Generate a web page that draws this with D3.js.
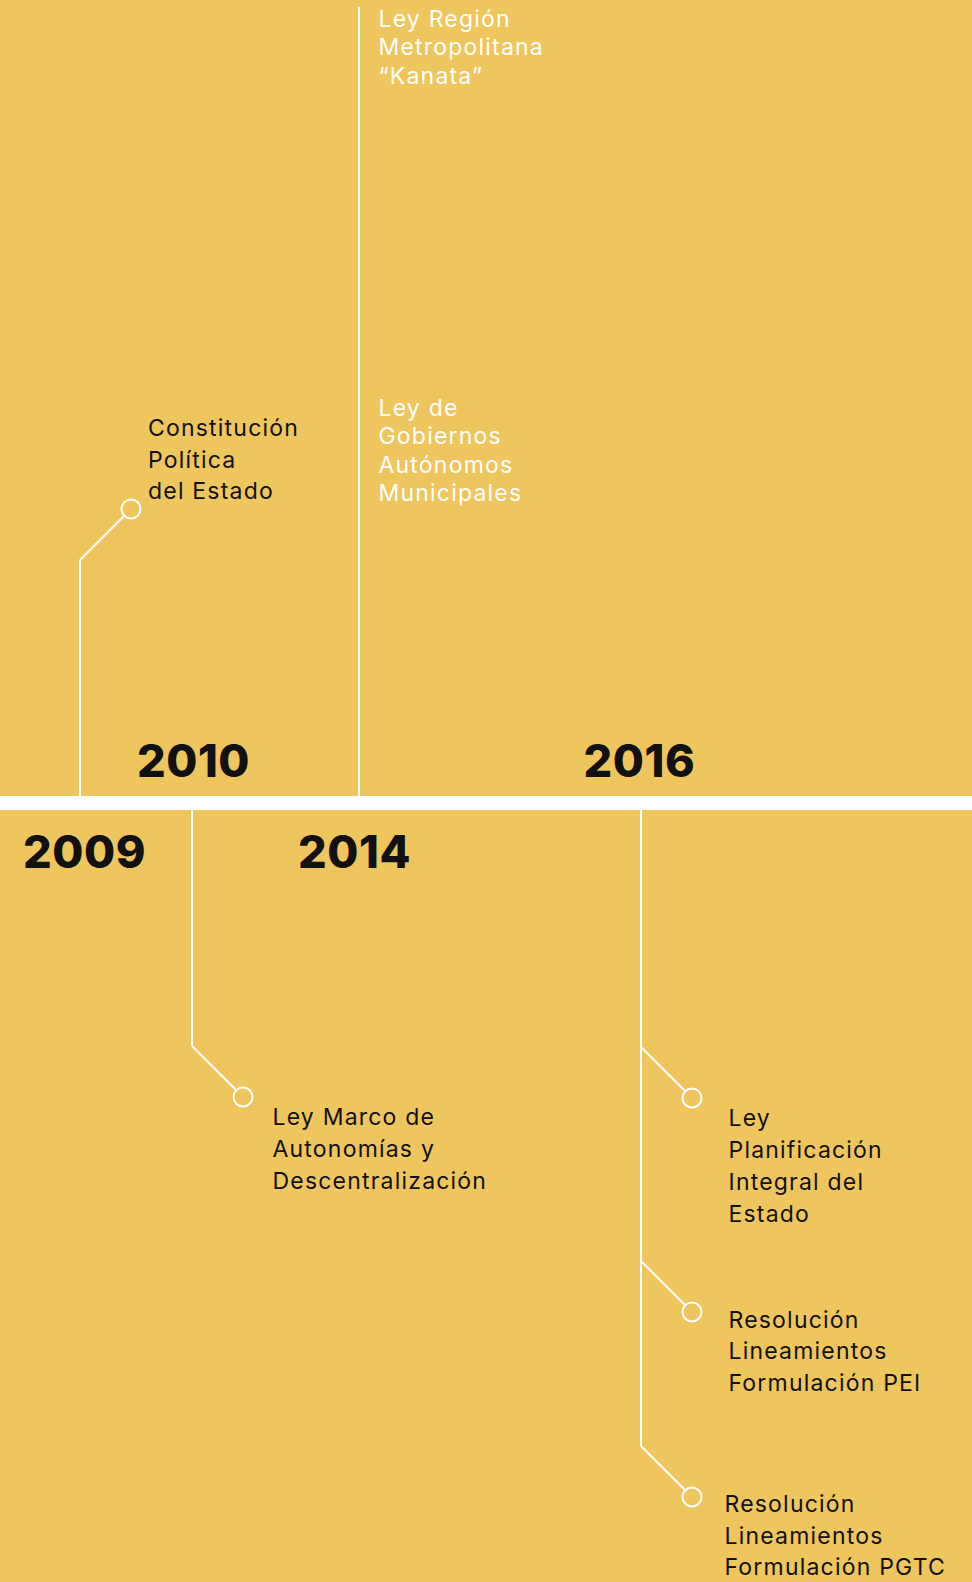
<!DOCTYPE html>
<html>
<head>
<meta charset="utf-8">
<script src="https://cdn.jsdelivr.net/npm/d3@7.9.0/dist/d3.min.js"></script>
<style>
  body { margin: 0; background: #efc55d; }
  svg { display: block; }
</style>
</head>
<body>
<svg id="chart"></svg>
<script>
// years on the timeline and which half of the band their stem grows into
const years = [2009, 2010, 2014, 2016];
const yearHalf = ['top', 'bottom', 'top', 'bottom'];

// events hanging off each year's stem
const eventYears = [2009, 2010, 2014, 2014, 2016, 2016, 2016];
const eventLabels = [
  ['Constitución', 'Política', 'del Estado'],
  ['Ley Marco de', 'Autonomías y', 'Descentralización'],
  ['Ley de', 'Gobiernos', 'Autónomos', 'Municipales'],
  ['Ley Región', 'Metropolitana', '“Kanata”'],
  ['Ley', 'Planificación', 'Integral del', 'Estado'],
  ['Resolución', 'Lineamientos', 'Formulación PEI'],
  ['Resolución', 'Lineamientos', 'Formulación PGTC']
];
const eventNode = [true, true, false, false, true, true, true];

// ---- layout ----
const W = 972, H = 1582;
const bandTop = 796, bandBottom = 810;
const yellow = '#efc55d';

const x = d3.scaleOrdinal().domain(years).range([80, 192, 359, 641]);
const half = d3.scaleOrdinal().domain(years).range(yearHalf);
const stemLen = d3.scaleOrdinal().domain(years).range([236, 236, 789, 636]);
const yearNudge = d3.scaleOrdinal().domain(years).range([4.5, 1.5, -4.5, -1.5]);

// distance from the band to each event (branch point, or first text line for plain events)
const reach = [236, 236, 380, 769, 237, 451, 636];
const labelDx = [17, 29.5, 19.5, 19.5, 36.5, 36.5, 32.5];
const labelDy = [-73, 28.4, 0, 0, 28.4, 15.6, 15];
const diag = 51, r = 9.5;

const dir = y => half(y) === 'top' ? -1 : 1;
const base = y => half(y) === 'top' ? bandTop : bandBottom;

const svg = d3.select('#chart').attr('width', W).attr('height', H);
svg.append('rect').attr('width', W).attr('height', H).attr('fill', yellow);
svg.append('rect').attr('y', bandTop).attr('width', W).attr('height', bandBottom - bandTop).attr('fill', '#fff');

// stems
svg.selectAll('line.stem').data(years).join('line')
  .attr('class', 'stem')
  .attr('x1', d => x(d)).attr('x2', d => x(d))
  .attr('y1', d => base(d))
  .attr('y2', d => base(d) + dir(d) * stemLen(d))
  .attr('stroke', '#fff').attr('stroke-width', 2);

// year labels on the opposite half
svg.selectAll('text.year').data(years).join('text')
  .attr('class', 'year')
  .attr('x', d => x(d) + yearNudge(d))
  .attr('y', d => half(d) === 'top' ? bandBottom + 58 : bandTop - 19)
  .attr('text-anchor', 'middle')
  .attr('font-family', 'Inter, sans-serif')
  .attr('font-weight', 800)
  .attr('font-size', 45)
  .attr('letter-spacing', 0.6)
  .attr('fill', '#111')
  .text(d => d);

const events = eventYears.map((yr, i) => ({ yr, i, lines: eventLabels[i], node: eventNode[i] }));

events.forEach(e => {
  const lx = x(e.yr), by = base(e.yr) + dir(e.yr) * reach[e.i];
  let tx, ty, lh, col;
  if (e.node) {
    const cx = lx + diag, cy = by + dir(e.yr) * diag;
    const k = r / Math.SQRT2;
    svg.append('line')
      .attr('x1', lx).attr('y1', by)
      .attr('x2', cx - k).attr('y2', cy - dir(e.yr) * k)
      .attr('stroke', '#fff').attr('stroke-width', 2);
    svg.append('circle')
      .attr('cx', cx).attr('cy', cy).attr('r', r)
      .attr('fill', 'none').attr('stroke', '#fff').attr('stroke-width', 2);
    tx = cx + labelDx[e.i]; ty = cy + labelDy[e.i]; lh = 31.7; col = '#111';
  } else {
    tx = lx + labelDx[e.i]; ty = by; lh = 28.3; col = '#fff';
  }
  const t = svg.append('text')
    .attr('font-family', 'Inter, sans-serif')
    .attr('font-size', 23)
    .attr('letter-spacing', 1.2)
    .attr('fill', col);
  e.lines.forEach((s, j) => {
    t.append('tspan').attr('x', tx).attr('y', ty + j * lh).text(s);
  });
});
</script>
</body>
</html>
